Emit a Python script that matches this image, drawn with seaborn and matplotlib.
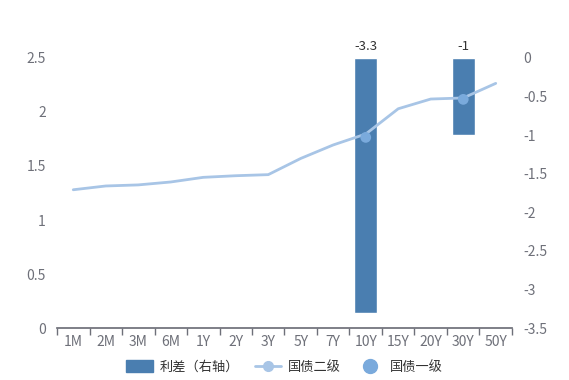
import numpy as np
import pandas as pd
import seaborn as sns
import matplotlib.pyplot as plt
from matplotlib.lines import Line2D
from matplotlib.patches import Patch

tenors = ["1M", "2M", "3M", "6M", "1Y", "2Y", "3Y", "5Y", "7Y", "10Y", "15Y", "20Y", "30Y", "50Y"]
gz_secondary = [1.28, 1.315, 1.325, 1.352, 1.395, 1.41, 1.42, 1.57, 1.695, 1.796, 2.03, 2.12, 2.13, 2.265]
gz_primary_tenors = ["10Y", "30Y"]
gz_primary = [1.765, 2.117]
spread_tenors = ["10Y", "30Y"]
spread = [-3.3, -1.0]

BAR_C = "#4a7eb0"
LINE_C = "#a8c5e6"
DOT_C = "#7aaadc"
TXT_C = "#6e7079"

sns.set_theme(style="white")
plt.rcParams["font.family"] = ["Noto Sans CJK SC", "DejaVu Sans"]

fig = plt.figure(figsize=(5.69, 3.80), dpi=100)
ax = fig.add_axes([0.1002, 0.1368, 0.7996, 0.7106])
ax2 = ax.twinx()

pos = {t: i for i, t in enumerate(tenors)}

# spread bars on the right axis
bar_df = pd.DataFrame({"tenor": spread_tenors, "spread": spread})
sns.barplot(data=bar_df, x="tenor", y="spread", order=tenors, color=BAR_C,
            saturation=1, width=0.7, ax=ax2)
bars = [pt for pt in ax2.patches if pt.get_height() != 0]
for p, v in zip(bars, spread):
    ax2.text(p.get_x() + p.get_width() / 2, 0.06, f"{v:g}", ha="center", va="bottom",
             fontsize=9.5, color="#333333")

# yields on the left axis
line_df = pd.DataFrame({"x": np.arange(len(tenors)), "y": gz_secondary})
sns.lineplot(data=line_df, x="x", y="y", color=LINE_C, linewidth=2, ax=ax)
dot_df = pd.DataFrame({"x": [pos[t] for t in gz_primary_tenors], "y": gz_primary})
sns.scatterplot(data=dot_df, x="x", y="y", color=DOT_C, s=60, edgecolor="none", ax=ax, zorder=3)

ax.set_zorder(ax2.get_zorder() + 1)
ax.patch.set_visible(False)

ax.set_ylim(0, 2.5)
ax2.set_ylim(-3.5, 0)
ax.set_yticks([0, 0.5, 1, 1.5, 2, 2.5])
ax.set_yticklabels(["0", "0.5", "1", "1.5", "2", "2.5"])
ax2.set_yticks([0, -0.5, -1, -1.5, -2, -2.5, -3, -3.5])
ax2.set_yticklabels(["0", "-0.5", "-1", "-1.5", "-2", "-2.5", "-3", "-3.5"])

ax.set_xticks(np.arange(len(tenors)))
ax.set_xticklabels(tenors)
ax.set_xticks(np.arange(len(tenors) + 1) - 0.5, minor=True)
ax.set_xlim(-0.5, len(tenors) - 0.5)

for a in (ax, ax2):
    a.set_xlabel("")
    a.set_ylabel("")
    for s in ("top", "left", "right", "bottom"):
        a.spines[s].set_visible(False)
    a.tick_params(axis="y", length=0, labelsize=10, labelcolor=TXT_C, pad=8)
    a.grid(False)
ax.spines["bottom"].set_visible(True)
ax.spines["bottom"].set_color(TXT_C)
ax.tick_params(axis="x", which="major", bottom=False, length=0, labelsize=10,
               labelcolor=TXT_C, pad=5)
ax.tick_params(axis="x", which="minor", bottom=True, length=5, color=TXT_C, width=1)

handles = [
    Patch(facecolor=BAR_C, edgecolor=BAR_C, label="利差（右轴）"),
    Line2D([0], [0], color=LINE_C, lw=2, marker="o", markersize=7,
           markerfacecolor=LINE_C, markeredgecolor=LINE_C, label="国债二级"),
    Line2D([0], [0], color="none", marker="o", markersize=10,
           markerfacecolor=DOT_C, markeredgecolor=DOT_C, label="国债一级"),
]
fig.legend(handles=handles, loc="center", bbox_to_anchor=(0.5, 0.034), ncol=3,
           frameon=False, fontsize=9.5, labelcolor="#333333", handlelength=2.0,
           handleheight=1.0, columnspacing=1.2, handletextpad=0.5)

fig.savefig("out.png", dpi=100)
